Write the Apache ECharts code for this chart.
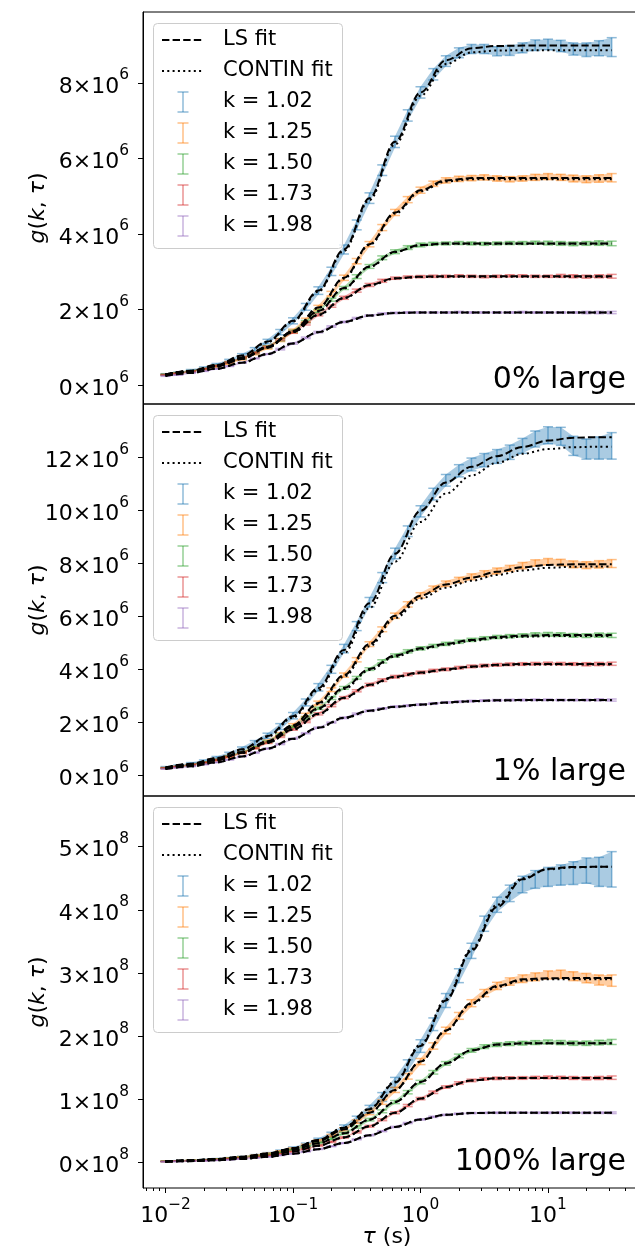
<!DOCTYPE html>
<html><head><meta charset="utf-8">
<script src="https://cdn.jsdelivr.net/npm/echarts@6/dist/echarts.min.js"></script>
<style>html,body{margin:0;padding:0;background:#fff}#c{width:635px;height:1252px}</style>
</head><body><div id="c"></div>
<script>
// ---------- data (tau in seconds; g in units of 1e6 for panels 1-2, 1e8 for panel 3) ----------
const TAU = [0.01,0.0126,0.0158,0.02,0.0251,0.0316,0.0398,0.0501,0.0631,0.0794,
  0.1,0.126,0.158,0.2,0.251,0.316,0.398,0.501,0.631,0.794,
  1,1.26,1.58,2,2.51,3.16,3.98,5.01,6.31,7.94,
  10,12.6,15.8,20,25.1,31.6];
const FIT_TAU = [0.01,0.0158,0.0251,0.0398,0.0631,0.1,0.158,0.251,0.398,0.631,1,1.58,2.51,3.98,6.31,10,15.8,25.1,31.6];
const K_LABELS = ['k = 1.02','k = 1.25','k = 1.50','k = 1.73','k = 1.98'];
const LEGEND_FIT_LABELS = ['LS fit','CONTIN fit'];
const PANEL_LABELS = ['0% large','1% large','100% large'];
const Y_TICKS_P1 = [0,2,4,6,8];
const Y_TICKS_P2 = [0,2,4,6,8,10,12];
const Y_TICKS_P3 = [0,1,2,3,4,5];
const Y_EXPONENTS = ['6','6','8'];
const X_TICKS = [0.01,0.1,1,10];
const X_TICK_EXPONENTS = ['−2','−1','0','1'];
const X_MINOR = [0.007,0.008,0.009,0.02,0.03,0.04,0.05,0.06,0.07,0.08,0.09,0.2,0.3,0.4,0.5,0.6,0.7,0.8,0.9,2,3,4,5,6,7,8,9,20,30,40];

// panel 1: 0% large (x1e6)
const P1_K102 = [0.28,0.32,0.38,0.45,0.53,0.64,0.78,0.94,1.15,1.40,1.70,2.07,2.50,3.01,3.59,4.24,4.95,5.69,6.44,7.14,7.75,8.23,8.58,8.80,8.90,8.90,8.84,8.86,8.93,9.00,9.02,8.98,8.90,8.88,8.92,8.95];
const P1_K125 = [0.27,0.31,0.36,0.41,0.49,0.58,0.69,0.83,0.99,1.19,1.43,1.72,2.05,2.42,2.84,3.28,3.73,4.17,4.57,4.91,5.16,5.33,5.42,5.46,5.48,5.50,5.47,5.45,5.47,5.50,5.52,5.50,5.47,5.45,5.47,5.49];
const P1_K150 = [0.28,0.32,0.37,0.43,0.51,0.60,0.71,0.85,1.01,1.20,1.42,1.68,1.96,2.26,2.57,2.87,3.14,3.37,3.53,3.64,3.71,3.74,3.75,3.76,3.75,3.74,3.75,3.76,3.76,3.77,3.76,3.75,3.74,3.75,3.76,3.75];
const P1_K173 = [0.27,0.31,0.36,0.43,0.51,0.60,0.72,0.85,1.01,1.20,1.40,1.62,1.86,2.09,2.31,2.50,2.65,2.76,2.83,2.86,2.87,2.88,2.88,2.89,2.88,2.87,2.88,2.89,2.89,2.88,2.88,2.89,2.88,2.87,2.88,2.88];
const P1_K198 = [0.24,0.27,0.32,0.37,0.43,0.50,0.59,0.70,0.82,0.95,1.10,1.25,1.40,1.55,1.67,1.77,1.84,1.89,1.91,1.92,1.92,1.92,1.92,1.93,1.92,1.92,1.92,1.92,1.93,1.92,1.92,1.92,1.92,1.92,1.92,1.92];
const P1_E102 = [0.02,0.02,0.03,0.03,0.04,0.04,0.05,0.05,0.06,0.07,0.08,0.09,0.10,0.11,0.12,0.13,0.14,0.14,0.15,0.15,0.15,0.15,0.14,0.13,0.12,0.12,0.12,0.13,0.13,0.14,0.14,0.15,0.16,0.18,0.20,0.25];
const P1_E125 = [0.01,0.01,0.02,0.02,0.02,0.03,0.03,0.03,0.04,0.04,0.05,0.05,0.06,0.06,0.07,0.07,0.07,0.08,0.08,0.08,0.08,0.07,0.07,0.07,0.07,0.07,0.07,0.07,0.07,0.08,0.08,0.08,0.09,0.09,0.10,0.11];
const P1_E150 = [0.01,0.01,0.01,0.01,0.02,0.02,0.02,0.02,0.03,0.03,0.03,0.03,0.04,0.04,0.04,0.05,0.05,0.05,0.05,0.05,0.05,0.04,0.04,0.04,0.04,0.04,0.04,0.04,0.04,0.04,0.05,0.05,0.05,0.05,0.06,0.06];
const P1_E173 = [0.01,0.01,0.01,0.01,0.01,0.02,0.02,0.02,0.02,0.02,0.03,0.03,0.03,0.03,0.04,0.04,0.04,0.04,0.03,0.03,0.03,0.03,0.03,0.03,0.03,0.03,0.03,0.03,0.03,0.03,0.03,0.04,0.04,0.04,0.04,0.05];
const P1_E198 = [0.01,0.01,0.01,0.01,0.01,0.01,0.01,0.01,0.01,0.02,0.02,0.02,0.02,0.02,0.02,0.02,0.02,0.02,0.02,0.02,0.02,0.02,0.02,0.02,0.02,0.02,0.02,0.02,0.02,0.02,0.02,0.02,0.02,0.03,0.03,0.03];
const P1_LS_K102 = [0.28,0.38,0.53,0.78,1.15,1.70,2.50,3.59,4.95,6.44,7.75,8.60,8.92,8.98,8.99,8.99,8.99,8.99,8.99];
const P1_CT_K102 = [0.28,0.37,0.52,0.77,1.13,1.68,2.47,3.55,4.90,6.37,7.66,8.50,8.81,8.86,8.87,8.87,8.87,8.87,8.87];
const P1_LS_K125 = [0.27,0.36,0.49,0.69,0.99,1.43,2.05,2.84,3.73,4.57,5.16,5.42,5.48,5.48,5.48,5.48,5.48,5.48,5.48];
const P1_CT_K125 = [0.27,0.36,0.49,0.69,0.99,1.42,2.04,2.82,3.71,4.54,5.13,5.39,5.45,5.45,5.45,5.45,5.45,5.45,5.45];
const P1_LS_K150 = [0.28,0.37,0.51,0.71,1.01,1.42,1.96,2.57,3.14,3.53,3.71,3.75,3.75,3.75,3.75,3.75,3.75,3.75,3.75];
const P1_CT_K150 = [0.28,0.37,0.51,0.71,1.01,1.41,1.95,2.56,3.13,3.52,3.70,3.74,3.74,3.74,3.74,3.74,3.74,3.74,3.74];
const P1_LS_K173 = [0.27,0.36,0.51,0.72,1.01,1.40,1.86,2.31,2.65,2.83,2.87,2.88,2.88,2.88,2.88,2.88,2.88,2.88,2.88];
const P1_CT_K173 = [0.27,0.36,0.51,0.72,1.01,1.40,1.85,2.30,2.64,2.82,2.86,2.87,2.87,2.87,2.87,2.87,2.87,2.87,2.87];
const P1_LS_K198 = [0.24,0.32,0.43,0.59,0.82,1.10,1.40,1.67,1.84,1.91,1.92,1.92,1.92,1.92,1.92,1.92,1.92,1.92,1.92];
const P1_CT_K198 = [0.24,0.32,0.43,0.59,0.82,1.10,1.40,1.67,1.84,1.91,1.92,1.92,1.92,1.92,1.92,1.92,1.92,1.92,1.92];

// panel 2: 1% large (x1e6)
const P2_K102 = [0.29,0.35,0.43,0.52,0.64,0.79,0.98,1.21,1.48,1.83,2.24,2.74,3.31,3.99,4.77,5.62,6.52,7.45,8.36,9.20,9.95,10.60,11.12,11.48,11.72,11.88,12.02,12.18,12.42,12.68,12.82,12.78,12.42,12.30,12.34,12.42];
const P2_K125 = [0.26,0.31,0.38,0.46,0.56,0.69,0.85,1.04,1.27,1.55,1.88,2.27,2.72,3.22,3.77,4.35,4.94,5.50,6.01,6.44,6.78,7.03,7.22,7.36,7.48,7.60,7.70,7.80,7.90,8.00,8.05,8.02,7.95,7.92,7.95,7.98];
const P2_K150 = [0.27,0.32,0.39,0.48,0.58,0.71,0.86,1.04,1.26,1.52,1.82,2.15,2.52,2.90,3.29,3.67,4.00,4.29,4.51,4.67,4.78,4.87,4.95,5.03,5.10,5.16,5.21,5.24,5.27,5.30,5.31,5.30,5.27,5.26,5.28,5.27];
const P2_K173 = [0.27,0.32,0.39,0.47,0.57,0.69,0.84,1.01,1.22,1.45,1.72,2.01,2.31,2.62,2.92,3.18,3.41,3.58,3.71,3.80,3.87,3.94,3.99,4.05,4.10,4.13,4.16,4.18,4.19,4.20,4.21,4.20,4.19,4.18,4.19,4.20];
const P2_K198 = [0.23,0.28,0.33,0.40,0.48,0.58,0.70,0.84,1.00,1.17,1.37,1.58,1.79,1.98,2.16,2.31,2.43,2.51,2.58,2.62,2.66,2.70,2.74,2.77,2.79,2.81,2.82,2.83,2.83,2.84,2.84,2.83,2.83,2.83,2.84,2.83];
const P2_E102 = [0.03,0.03,0.04,0.05,0.06,0.07,0.08,0.09,0.10,0.11,0.12,0.13,0.14,0.15,0.16,0.17,0.18,0.19,0.20,0.20,0.21,0.22,0.22,0.23,0.24,0.25,0.26,0.27,0.28,0.30,0.32,0.34,0.36,0.38,0.42,0.50];
const P2_E125 = [0.02,0.02,0.02,0.03,0.03,0.03,0.04,0.04,0.05,0.05,0.06,0.06,0.07,0.07,0.08,0.08,0.09,0.09,0.10,0.10,0.10,0.10,0.10,0.10,0.11,0.11,0.11,0.11,0.12,0.12,0.12,0.12,0.13,0.13,0.14,0.15];
const P2_E150 = [0.01,0.01,0.01,0.02,0.02,0.02,0.02,0.03,0.03,0.03,0.04,0.04,0.04,0.05,0.05,0.05,0.05,0.06,0.06,0.06,0.06,0.06,0.06,0.06,0.06,0.06,0.06,0.06,0.06,0.07,0.07,0.07,0.07,0.07,0.08,0.08];
const P2_E173 = [0.01,0.01,0.01,0.01,0.02,0.02,0.02,0.02,0.03,0.03,0.03,0.03,0.04,0.04,0.04,0.04,0.05,0.05,0.05,0.05,0.05,0.05,0.05,0.05,0.05,0.05,0.05,0.05,0.05,0.05,0.05,0.05,0.05,0.06,0.06,0.06];
const P2_E198 = [0.01,0.01,0.01,0.01,0.01,0.01,0.01,0.02,0.02,0.02,0.02,0.02,0.02,0.02,0.03,0.03,0.03,0.03,0.03,0.03,0.03,0.03,0.03,0.03,0.03,0.03,0.03,0.03,0.03,0.03,0.03,0.03,0.03,0.03,0.04,0.04];
const P2_LS_K102 = [0.29,0.43,0.64,0.97,1.47,2.22,3.28,4.72,6.48,8.35,9.97,11.04,11.63,12.03,12.38,12.62,12.73,12.75,12.75];
const P2_CT_K102 = [0.29,0.42,0.63,0.95,1.44,2.17,3.20,4.60,6.30,8.05,9.55,10.62,11.30,11.78,12.12,12.30,12.37,12.39,12.39];
const P2_LS_K125 = [0.26,0.38,0.56,0.85,1.27,1.88,2.72,3.77,4.94,6.01,6.77,7.19,7.45,7.67,7.84,7.93,7.95,7.95,7.95];
const P2_CT_K125 = [0.26,0.38,0.55,0.84,1.25,1.85,2.68,3.71,4.86,5.92,6.66,7.07,7.33,7.55,7.72,7.82,7.86,7.87,7.87];
const P2_LS_K150 = [0.27,0.39,0.58,0.86,1.26,1.82,2.52,3.29,4.00,4.51,4.78,4.95,5.10,5.21,5.26,5.28,5.28,5.28,5.28];
const P2_CT_K150 = [0.27,0.39,0.58,0.86,1.25,1.80,2.49,3.25,3.96,4.47,4.75,4.92,5.06,5.17,5.22,5.24,5.25,5.25,5.25];
const P2_LS_K173 = [0.27,0.39,0.57,0.84,1.22,1.72,2.31,2.92,3.41,3.71,3.87,3.99,4.10,4.16,4.19,4.19,4.19,4.19,4.19];
const P2_CT_K173 = [0.27,0.39,0.57,0.84,1.21,1.71,2.29,2.90,3.39,3.69,3.85,3.97,4.08,4.14,4.17,4.17,4.17,4.17,4.17];
const P2_LS_K198 = [0.23,0.33,0.48,0.70,1.00,1.37,1.79,2.16,2.43,2.58,2.66,2.74,2.79,2.82,2.83,2.83,2.83,2.83,2.83];
const P2_CT_K198 = [0.23,0.33,0.48,0.70,1.00,1.36,1.78,2.15,2.42,2.57,2.65,2.73,2.78,2.81,2.82,2.82,2.82,2.82,2.82];

// panel 3: 100% large (x1e8)
const P3_K102 = [0.023,0.029,0.037,0.047,0.059,0.073,0.093,0.116,0.146,0.183,0.229,0.286,0.358,0.446,0.554,0.686,0.847,1.039,1.269,1.537,1.845,2.190,2.565,2.958,3.351,3.78,4.08,4.26,4.40,4.48,4.52,4.55,4.58,4.62,4.60,4.64];
const P3_K125 = [0.023,0.029,0.037,0.046,0.058,0.072,0.091,0.114,0.143,0.179,0.223,0.278,0.345,0.428,0.528,0.649,0.792,0.959,1.151,1.366,1.600,1.846,2.091,2.322,2.523,2.683,2.796,2.865,2.91,2.94,2.97,2.98,2.95,2.92,2.89,2.88];
const P3_K150 = [0.021,0.026,0.033,0.042,0.053,0.066,0.083,0.103,0.129,0.161,0.201,0.249,0.308,0.379,0.464,0.565,0.681,0.813,0.959,1.115,1.275,1.430,1.571,1.689,1.777,1.836,1.868,1.883,1.89,1.90,1.91,1.90,1.89,1.89,1.90,1.91];
const P3_K173 = [0.019,0.024,0.030,0.037,0.047,0.059,0.073,0.092,0.114,0.142,0.177,0.218,0.269,0.329,0.400,0.483,0.576,0.680,0.790,0.904,1.014,1.114,1.197,1.260,1.301,1.325,1.335,1.339,1.34,1.345,1.35,1.345,1.34,1.335,1.34,1.345];
const P3_K198 = [0.016,0.020,0.025,0.031,0.039,0.048,0.060,0.075,0.093,0.116,0.143,0.175,0.214,0.259,0.311,0.370,0.433,0.499,0.566,0.628,0.683,0.726,0.757,0.775,0.785,0.789,0.79,0.79,0.792,0.79,0.79,0.791,0.79,0.789,0.79,0.79];
const P3_E102 = [0.003,0.004,0.005,0.006,0.007,0.008,0.010,0.012,0.014,0.017,0.020,0.024,0.030,0.036,0.043,0.050,0.060,0.070,0.080,0.090,0.100,0.100,0.110,0.110,0.120,0.120,0.120,0.130,0.130,0.140,0.150,0.160,0.180,0.200,0.230,0.280];
const P3_E125 = [0.002,0.002,0.003,0.003,0.004,0.005,0.006,0.007,0.008,0.010,0.012,0.014,0.017,0.020,0.024,0.028,0.032,0.036,0.040,0.044,0.048,0.050,0.052,0.054,0.055,0.056,0.057,0.058,0.060,0.062,0.064,0.066,0.070,0.074,0.080,0.090];
const P3_E150 = [0.002,0.002,0.002,0.003,0.003,0.003,0.004,0.005,0.006,0.007,0.008,0.010,0.012,0.014,0.016,0.018,0.020,0.022,0.024,0.026,0.027,0.028,0.028,0.029,0.029,0.030,0.030,0.030,0.030,0.031,0.032,0.033,0.034,0.035,0.037,0.040];
const P3_E173 = [0.001,0.001,0.002,0.002,0.002,0.003,0.003,0.004,0.004,0.005,0.006,0.007,0.008,0.010,0.011,0.012,0.014,0.015,0.016,0.017,0.018,0.019,0.019,0.020,0.020,0.020,0.020,0.020,0.021,0.021,0.022,0.022,0.023,0.024,0.025,0.027];
const P3_E198 = [0.001,0.001,0.001,0.001,0.002,0.002,0.002,0.002,0.003,0.003,0.004,0.004,0.005,0.005,0.006,0.007,0.008,0.008,0.009,0.009,0.010,0.010,0.010,0.010,0.010,0.010,0.010,0.010,0.010,0.011,0.011,0.011,0.011,0.012,0.012,0.013];
const P3_LS_K102 = [0.023,0.037,0.059,0.093,0.146,0.229,0.358,0.554,0.847,1.269,1.845,2.565,3.351,4.044,4.482,4.649,4.678,4.68,4.68];
const P3_CT_K102 = [0.023,0.037,0.059,0.093,0.146,0.229,0.360,0.558,0.855,1.282,1.865,2.59,3.38,4.08,4.50,4.64,4.67,4.68,4.68];
const P3_LS_K125 = [0.023,0.037,0.058,0.091,0.143,0.223,0.345,0.528,0.792,1.151,1.600,2.091,2.523,2.796,2.900,2.919,2.92,2.92,2.92];
const P3_CT_K125 = [0.023,0.037,0.058,0.091,0.143,0.223,0.345,0.528,0.79,1.148,1.595,2.083,2.51,2.78,2.88,2.90,2.90,2.90,2.90];
const P3_LS_K150 = [0.021,0.033,0.053,0.083,0.129,0.201,0.308,0.464,0.681,0.959,1.275,1.571,1.777,1.868,1.888,1.89,1.89,1.89,1.89];
const P3_CT_K150 = [0.021,0.033,0.053,0.083,0.129,0.201,0.308,0.464,0.681,0.959,1.275,1.571,1.777,1.868,1.888,1.89,1.89,1.89,1.89];
const P3_LS_K173 = [0.019,0.030,0.047,0.073,0.114,0.177,0.269,0.400,0.576,0.790,1.014,1.197,1.301,1.335,1.34,1.34,1.34,1.34,1.34];
const P3_CT_K173 = [0.019,0.030,0.047,0.073,0.114,0.177,0.269,0.400,0.576,0.790,1.014,1.197,1.301,1.335,1.34,1.34,1.34,1.34,1.34];
const P3_LS_K198 = [0.016,0.025,0.039,0.060,0.093,0.143,0.214,0.311,0.433,0.566,0.683,0.757,0.785,0.79,0.79,0.79,0.79,0.79,0.79];
const P3_CT_K198 = [0.016,0.025,0.039,0.060,0.093,0.143,0.214,0.311,0.433,0.566,0.683,0.757,0.785,0.79,0.79,0.79,0.79,0.79,0.79];

// ---------- layout / style ----------
const COLORS = ['#1f77b4','#ff7f0e','#2ca02c','#d62728','#9467bd'];
const FONT = 'DejaVu Sans';
const X_MIN = 0.00666, X_MAX = 49.0;
const LEFT = 143, WIDTH = 493, PH = 392;
const PANELS = [
  {top:12,  ymin:-0.503, ymax:9.88, ticks:Y_TICKS_P1, labelY:380.6,
   vals:[P1_K102,P1_K125,P1_K150,P1_K173,P1_K198], errs:[P1_E102,P1_E125,P1_E150,P1_E173,P1_E198],
   ls:[P1_LS_K102,P1_LS_K125,P1_LS_K150,P1_LS_K173,P1_LS_K198], ct:[P1_CT_K102,P1_CT_K125,P1_CT_K150,P1_CT_K173,P1_CT_K198]},
  {top:404, ymin:-0.79, ymax:14.0, ticks:Y_TICKS_P2, labelY:772.6,
   vals:[P2_K102,P2_K125,P2_K150,P2_K173,P2_K198], errs:[P2_E102,P2_E125,P2_E150,P2_E173,P2_E198],
   ls:[P2_LS_K102,P2_LS_K125,P2_LS_K150,P2_LS_K173,P2_LS_K198], ct:[P2_CT_K102,P2_CT_K125,P2_CT_K150,P2_CT_K173,P2_CT_K198]},
  {top:796, ymin:-0.40, ymax:5.80, ticks:Y_TICKS_P3, labelY:1162.6,
   vals:[P3_K102,P3_K125,P3_K150,P3_K173,P3_K198], errs:[P3_E102,P3_E125,P3_E150,P3_E173,P3_E198],
   ls:[P3_LS_K102,P3_LS_K125,P3_LS_K150,P3_LS_K173,P3_LS_K198], ct:[P3_CT_K102,P3_CT_K125,P3_CT_K150,P3_CT_K173,P3_CT_K198]}
];
const L10 = v => Math.log10(v);
const rgba = (hex, a) => { const n = parseInt(hex.slice(1), 16); return `rgba(${n >> 16},${(n >> 8) & 255},${n & 255},${a})`; };
const SUP_RICH = {
  n: {fontSize: 22, fontFamily: FONT, color: '#000', lineHeight: 30, verticalAlign: 'bottom'},
  s: {fontSize: 15.4, fontFamily: FONT, color: '#000', lineHeight: 15, verticalAlign: 'top'}
};

function errorSeries(p, j) {
  const vals = PANELS[p].vals[j], errs = PANELS[p].errs[j];
  const bar = rgba(COLORS[j], 0.5), band = rgba(COLORS[j], 0.38);
  return {
    type: 'custom', xAxisIndex: p, yAxisIndex: p, clip: true, z: 2, silent: true,
    encode: {x: 0, y: 1},
    data: TAU.map((t, i) => [L10(t), vals[i], errs[i]]),
    renderItem(params, api) {
      const i = params.dataIndex;
      const children = [];
      if (i === 0) {
        const up = [], lo = [];
        for (let k = 0; k < TAU.length; k++) {
          const a = api.coord([L10(TAU[k]), vals[k] + errs[k]]);
          const b = api.coord([L10(TAU[k]), vals[k] - errs[k]]);
          const m = (a[1] + b[1]) / 2;
          up.push([a[0], Math.min(a[1], m - 0.9)]);
          lo.push([b[0], Math.max(b[1], m + 0.9)]);
        }
        children.push({type: 'polygon', shape: {points: up.concat(lo.reverse())}, style: {fill: band}});
      }
      const t = api.coord([L10(TAU[i]), vals[i] + errs[i]]);
      const b = api.coord([L10(TAU[i]), vals[i] - errs[i]]);
      const x = t[0], cw = 5;
      const st = {stroke: bar, lineWidth: 1.5};
      children.push({type: 'line', shape: {x1: x, y1: t[1], x2: x, y2: b[1]}, style: st});
      children.push({type: 'line', shape: {x1: x - cw, y1: t[1], x2: x + cw, y2: t[1]}, style: st});
      children.push({type: 'line', shape: {x1: x - cw, y1: b[1], x2: x + cw, y2: b[1]}, style: st});
      return {type: 'group', children};
    }
  };
}
function fitSeries(p, arr, dashed) {
  return {
    type: 'line', xAxisIndex: p, yAxisIndex: p, silent: true, z: 4,
    data: FIT_TAU.map((t, i) => [L10(t), arr[i]]),
    symbol: 'none', showSymbol: false, smooth: 0.35, smoothMonotone: 'x', clip: true,
    lineStyle: {color: '#000', width: 2, type: dashed ? [7.4, 3.2] : [2, 3.3], cap: 'butt'}
  };
}

const series = [];
PANELS.forEach((P, p) => {
  for (let j = 0; j < 5; j++) series.push(errorSeries(p, j));
  for (let j = 0; j < 5; j++) { series.push(fitSeries(p, P.ls[j], true)); series.push(fitSeries(p, P.ct[j], false)); }
});

const xAxis = PANELS.map((P, p) => ({
  type: 'value', gridIndex: p, position: 'bottom', min: L10(X_MIN), max: L10(X_MAX),
  axisLine: {show: false, onZero: false}, splitLine: {show: false},
  axisTick: p === 2 ? {show: true, customValues: X_TICKS.map(L10), length: 5, lineStyle: {color: '#000', width: 1}} : {show: false},
  axisLabel: p === 2 ? {show: true, customValues: X_TICKS.map(L10), margin: 9, color: '#000', fontSize: 22, fontFamily: FONT,
    formatter: v => '{n|10}{s|' + X_TICK_EXPONENTS[Math.round(v) + 2] + '}', rich: SUP_RICH} : {show: false}
}));
xAxis.push({
  type: 'value', gridIndex: 2, position: 'bottom', offset: 0, min: L10(X_MIN), max: L10(X_MAX),
  axisLine: {show: false, onZero: false}, splitLine: {show: false}, axisLabel: {show: false},
  axisTick: {show: true, customValues: X_MINOR.map(L10), length: 3, lineStyle: {color: '#000', width: 1}}
});

const yAxis = PANELS.map((P, p) => ({
  type: 'value', gridIndex: p, position: 'left', min: P.ymin, max: P.ymax,
  splitLine: {show: false},
  axisLine: {show: true, onZero: false, lineStyle: {color: '#000', width: 1}},
  axisTick: {show: true, customValues: P.ticks, length: 5, lineStyle: {color: '#000', width: 1}},
  axisLabel: {customValues: P.ticks, margin: 14, color: '#000', fontSize: 22, fontFamily: FONT,
    formatter: v => '{n|' + v + '×10}{s|' + Y_EXPONENTS[p] + '}', rich: SUP_RICH}
}));

const grid = PANELS.map(P => ({left: LEFT, top: P.top, width: WIDTH, height: PH, show: true,
  borderColor: '#000', borderWidth: 1, backgroundColor: 'transparent', containLabel: false, outerBoundsMode: 'none'}));

const graphic = [];
const LEGEND_ROWS = [28, 59, 90, 121, 152, 183, 214];
PANELS.forEach((P, p) => {
  const T = P.top;
  graphic.push({type: 'rect', z: 100, shape: {x: 153.5, y: T + 11.5, width: 189, height: 225, r: 4},
    style: {fill: 'rgba(255,255,255,0.8)', stroke: '#cccccc', lineWidth: 1}});
  const ys = LEGEND_ROWS.map(d => T + d);
  graphic.push({type: 'line', z: 101, shape: {x1: 162, y1: ys[0], x2: 204, y2: ys[0]}, style: {stroke: '#000', lineWidth: 2, lineDash: [7.4, 3.2]}});
  graphic.push({type: 'line', z: 101, shape: {x1: 162, y1: ys[1], x2: 204, y2: ys[1]}, style: {stroke: '#000', lineWidth: 2, lineDash: [2, 3.3]}});
  K_LABELS.forEach((lab, j) => {
    const y = ys[j + 2], c = rgba(COLORS[j], 0.5);
    graphic.push({type: 'line', z: 101, shape: {x1: 183, y1: y - 10, x2: 183, y2: y + 10}, style: {stroke: c, lineWidth: 1.5}});
    graphic.push({type: 'line', z: 101, shape: {x1: 177.5, y1: y - 10, x2: 188.5, y2: y - 10}, style: {stroke: c, lineWidth: 1.5}});
    graphic.push({type: 'line', z: 101, shape: {x1: 177.5, y1: y + 10, x2: 188.5, y2: y + 10}, style: {stroke: c, lineWidth: 1.5}});
  });
  LEGEND_FIT_LABELS.concat(K_LABELS).forEach((txt, r) => {
    graphic.push({type: 'text', z: 101, x: 223, y: ys[r],
      style: {text: txt, fill: '#000', font: '21px "DejaVu Sans"', textAlign: 'left', textVerticalAlign: 'middle'}});
  });
  graphic.push({type: 'text', z: 101, x: 626, y: P.labelY,
    style: {text: PANEL_LABELS[p], fill: '#000', font: '30px "DejaVu Sans"', textAlign: 'right', textVerticalAlign: 'middle'}});
  graphic.push({type: 'text', z: 101, x: 38, y: T + PH / 2, rotation: Math.PI / 2,
    style: {text: '{i|g}({i|k}, {i|τ})', fill: '#000', font: '22px "DejaVu Sans"', textAlign: 'center', textVerticalAlign: 'middle',
      rich: {i: {fontStyle: 'italic', fontSize: 22, fontFamily: FONT}}}});
});
graphic.push({type: 'text', z: 101, x: 387, y: 1237.5,
  style: {text: '{i|τ} (s)', fill: '#000', font: '22px "DejaVu Sans"', textAlign: 'center', textVerticalAlign: 'middle',
    rich: {i: {fontStyle: 'italic', fontSize: 22, fontFamily: FONT}}}});

const chart = echarts.init(document.getElementById('c'), null, {renderer: 'canvas'});
chart.setOption({
  animation: false,
  backgroundColor: '#ffffff',
  textStyle: {fontFamily: FONT},
  grid, xAxis, yAxis, series, graphic
});
</script>
</body></html>
